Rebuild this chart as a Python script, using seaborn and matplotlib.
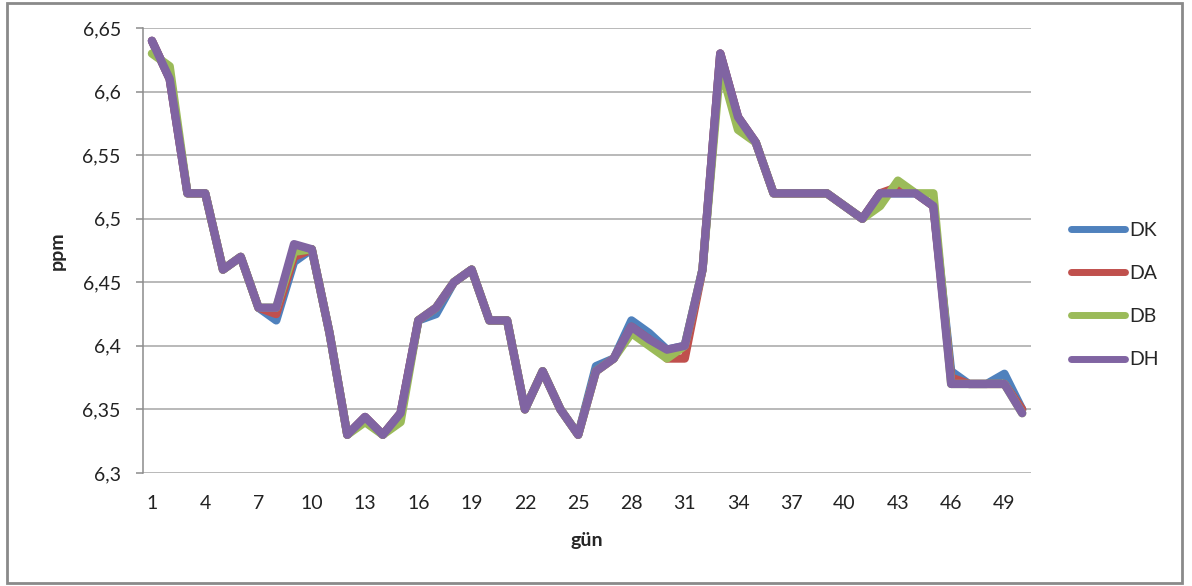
import matplotlib
matplotlib.use("Agg")
import matplotlib.pyplot as plt
import seaborn as sns
import pandas as pd
from matplotlib.patches import Rectangle

sns.set_style("white")
plt.rcParams['font.family'] = ['Lato', 'DejaVu Sans']

# days (gün)
days = list(range(1, 51))

# ppm values
DK = [6.64, 6.61, 6.52, 6.52, 6.46, 6.47, 6.43, 6.42, 6.466, 6.476,
      6.41, 6.33, 6.344, 6.33, 6.347, 6.42, 6.425, 6.45, 6.46, 6.42,
      6.42, 6.35, 6.38, 6.35, 6.33, 6.384, 6.39, 6.42, 6.41, 6.397,
      6.40, 6.46, 6.63, 6.58, 6.56, 6.52, 6.52, 6.52, 6.52, 6.51,
      6.50, 6.52, 6.52, 6.52, 6.51, 6.38, 6.37, 6.37, 6.378, 6.35]
DA = [6.64, 6.61, 6.52, 6.52, 6.46, 6.47, 6.43, 6.425, 6.47, 6.476,
      6.41, 6.33, 6.344, 6.33, 6.347, 6.42, 6.43, 6.45, 6.46, 6.42,
      6.42, 6.35, 6.38, 6.35, 6.33, 6.38, 6.39, 6.415, 6.405, 6.39,
      6.39, 6.46, 6.63, 6.58, 6.56, 6.52, 6.52, 6.52, 6.52, 6.51,
      6.50, 6.52, 6.525, 6.52, 6.51, 6.375, 6.37, 6.37, 6.37, 6.35]
DB = [6.63, 6.62, 6.52, 6.52, 6.46, 6.47, 6.43, 6.43, 6.474, 6.476,
      6.41, 6.33, 6.34, 6.33, 6.34, 6.42, 6.43, 6.45, 6.46, 6.42,
      6.42, 6.35, 6.38, 6.35, 6.33, 6.38, 6.39, 6.41, 6.40, 6.39,
      6.40, 6.46, 6.62, 6.57, 6.56, 6.52, 6.52, 6.52, 6.52, 6.51,
      6.50, 6.51, 6.53, 6.52, 6.52, 6.37, 6.37, 6.37, 6.37, 6.347]
DH = [6.64, 6.61, 6.52, 6.52, 6.46, 6.47, 6.43, 6.43, 6.48, 6.476,
      6.41, 6.33, 6.344, 6.33, 6.347, 6.42, 6.43, 6.45, 6.46, 6.42,
      6.42, 6.35, 6.38, 6.35, 6.33, 6.38, 6.39, 6.415, 6.405, 6.397,
      6.40, 6.46, 6.63, 6.58, 6.56, 6.52, 6.52, 6.52, 6.52, 6.51,
      6.50, 6.52, 6.52, 6.52, 6.51, 6.37, 6.37, 6.37, 6.37, 6.347]

series_names = ["DK", "DA", "DB", "DH"]
colors = ["#4F81BD", "#C0504D", "#9BBB59", "#8064A2"]

x_ticks = list(range(1, 51, 3))
y_ticks = [6.3, 6.35, 6.4, 6.45, 6.5, 6.55, 6.6, 6.65]
y_tick_labels = ["6,3", "6,35", "6,4", "6,45", "6,5", "6,55", "6,6", "6,65"]

# long-form table for seaborn
frames = []
for name, vals in zip(series_names, [DK, DA, DB, DH]):
    frames.append(pd.DataFrame({"gün": days, "ppm": vals, "seri": name}))
df = pd.concat(frames, ignore_index=True)

fig = plt.figure(figsize=(11.92, 5.86), dpi=100)
ax = fig.add_axes([0.12, 0.193, 0.745, 0.759])

sns.lineplot(data=df, x="gün", y="ppm", hue="seri", hue_order=series_names,
             palette=colors, linewidth=6, ax=ax, sort=False,
             solid_capstyle="round", solid_joinstyle="round")

ax.set_xlim(0.5, 50.5)
ax.set_ylim(6.3, 6.65)
ax.set_xticks(x_ticks)
ax.set_yticks(y_ticks)
ax.set_yticklabels(y_tick_labels)
ax.yaxis.grid(True, color="#A6A6A6", linewidth=1.1)
ax.xaxis.grid(False)
ax.set_axisbelow(True)

for side in ["top", "right", "bottom"]:
    ax.spines[side].set_visible(False)
ax.spines["left"].set_color("#8C8C8C")
ax.spines["left"].set_linewidth(1.1)

ax.tick_params(axis="y", length=5, width=1.1, color="#8C8C8C", pad=11,
               labelsize=14, labelcolor="#222222", left=True)
ax.tick_params(axis="x", length=0, pad=16, labelsize=14, labelcolor="#222222")

ax.set_xlabel("gün", fontsize=14, fontweight="bold", labelpad=14)
ax.set_ylabel("ppm", fontsize=14, fontweight="bold", labelpad=12)

leg = ax.legend(loc="center left", bbox_to_anchor=(1.025, 0.40), frameon=False,
                fontsize=14, handlelength=2.8, handletextpad=0.2,
                labelspacing=1.35)
for line in leg.get_lines():
    line.set_linewidth(5)
    line.set_solid_capstyle("round")

fig.add_artist(Rectangle((7 / 1192, 3 / 586), 1175 / 1192, 580 / 586,
                         transform=fig.transFigure, fill=False,
                         edgecolor="#8A8A8A", linewidth=2))

fig.savefig("out.png", dpi=100)
